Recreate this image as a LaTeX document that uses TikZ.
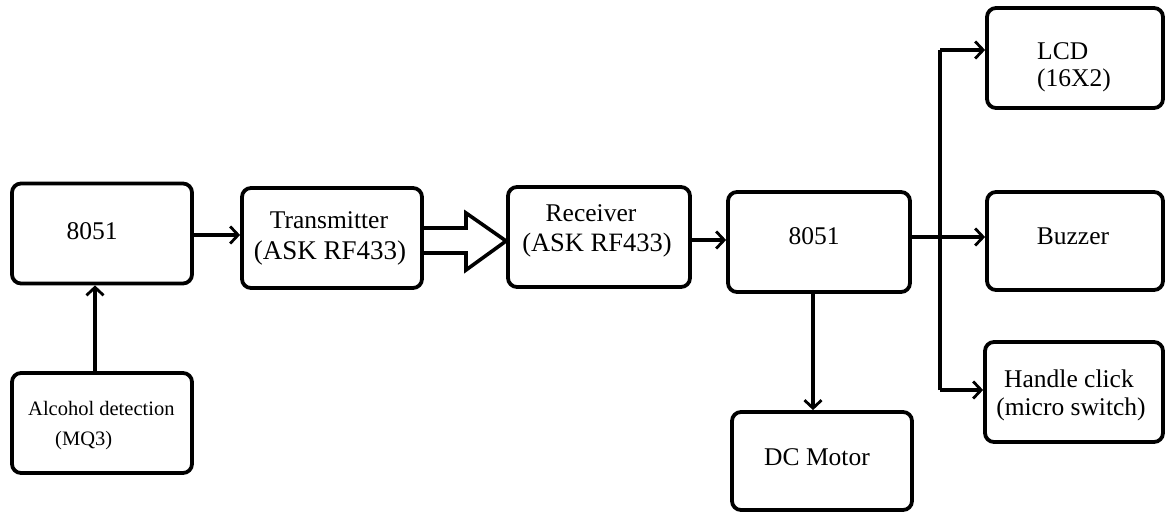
\documentclass[tikz,border=0pt]{standalone}
\usepackage{fontspec}
\setmainfont{Liberation Serif}
\usetikzlibrary{arrows.meta,calc}
\tikzset{
  box/.style={draw=black, line width=3.8pt, rounded corners=9pt, fill=white, inner sep=0pt},
  arr/.style={line width=3.2pt, -{Straight Barb[length=8pt,width=17pt,line width=2.8pt]}},
  conn/.style={line width=3.2pt},
  lbl/.style={anchor=base, inner sep=0pt, font=\fontsize{25.5}{27}\selectfont, text=black},
  lbll/.style={anchor=base west, inner sep=0pt, font=\fontsize{25.5}{27}\selectfont, text=black},
  small/.style={anchor=base west, inner sep=0pt, font=\fontsize{20.5}{22}\selectfont, text=black},
  dbl/.style={line width=3.6pt, line join=miter}
}
\begin{document}
\begin{tikzpicture}[x=1pt,y=-1pt]
\path[use as bounding box, fill=white] (0,0) rectangle (1165,513);

% boxes
\node[box, minimum width=180pt, minimum height=100pt] (m1) at (102,233.5) {};
\node[box, minimum width=180pt, minimum height=100pt] (al) at (102,423) {};
\node[box, minimum width=180pt, minimum height=100pt] (tx) at (332,238) {};
\node[box, minimum width=182pt, minimum height=100pt] (rx) at (599,237) {};
\node[box, minimum width=182pt, minimum height=100pt] (m2) at (819,242) {};
\node[box, minimum width=176pt, minimum height=100pt] (lcd) at (1075,58) {};
\node[box, minimum width=176pt, minimum height=98pt] (bz) at (1075,241) {};
\node[box, minimum width=178pt, minimum height=100pt] (hc) at (1074,392) {};
\node[box, minimum width=180pt, minimum height=98pt] (dc) at (822,461) {};

% texts
\node[lbl] (t1) at (92,240) {8051};
\node[small] (t2) at (28,415) {Alcohol detection};
\node[small] (t3) at (55,445) {(MQ3)};
\node[lbl] (t4) at (329,229) {Transmitter};
\node[lbl, font=\fontsize{27}{28}\selectfont] (t5) at (330,259) {(ASK RF433)};
\node[lbl] (t6) at (591,222) {Receiver};
\node[lbl, font=\fontsize{26.5}{28}\selectfont] (t7) at (597,252) {(ASK RF433)};
\node[lbl] (t8) at (814,245) {8051};
\node[lbll] (t9) at (1037,60) {LCD};
\node[lbll] (t10) at (1037,87) {(16X2)};
\node[lbl] (t11) at (1073,245) {Buzzer};
\node[lbl] (t12) at (1069,387) {Handle click};
\node[lbl] (t13) at (1071,415) {(micro switch)};
\node[lbl] (t14) at (817,465) {DC Motor};

% connectors
\draw[arr] (al.north -| 95,0) -- (m1.south -| 95,0);
\draw[arr] (m1.east |- 0,235) -- (tx.west |- 0,235);
\draw[dbl] ($(tx.east)+(0,-10)$) -- (466,228) -- (466,213) -- (rx.west |- 0,241)
  -- (466,270) -- (466,253) -- ($(tx.east)+(0,15)$);
\draw[arr] (rx.east |- 0,240) -- (m2.west |- 0,240);
\draw[arr] (m2.east |- 0,237) -- (bz.west |- 0,237);
\coordinate (bt) at (940,50);
\coordinate (bb) at (940,390);
\draw[conn] (bb) -- (bt);
\draw[arr] (bt) -- (bt -| lcd.west);
\draw[arr] (bb) -- (bb -| hc.west);
\draw[arr] (m2.south -| 813,0) -- (dc.north -| 813,0);
\end{tikzpicture}
\end{document}
